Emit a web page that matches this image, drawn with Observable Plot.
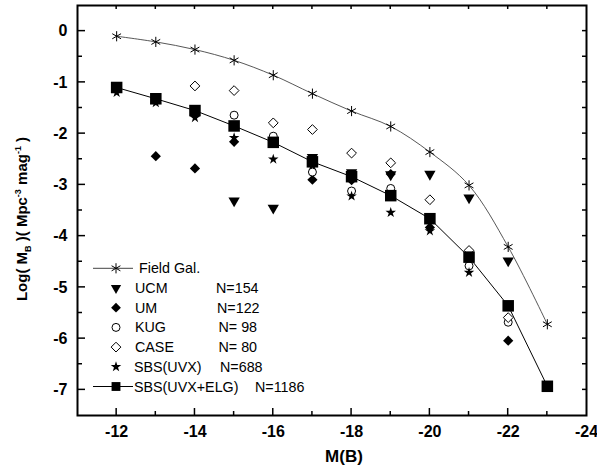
<!DOCTYPE html>
<html><head><meta charset="utf-8">
<script src="https://cdn.jsdelivr.net/npm/d3@7"></script>
<script src="https://cdn.jsdelivr.net/npm/@observablehq/plot@0.6"></script>
<style>body{margin:0;background:#fff} #chart{width:597px;height:471px}</style>
</head><body><div id="chart"></div>
<script>
// ---- data ----
const fieldMag = [-12,-13,-14,-15,-16,-17,-18,-19,-20,-21,-22,-23];
const fieldLog = [-0.10,-0.21,-0.36,-0.57,-0.86,-1.22,-1.56,-1.86,-2.36,-3.01,-4.21,-5.72];

const sbsAllMag = [-12,-13,-14,-15,-16,-17,-18,-19,-20,-21,-22,-23];
const sbsAllLog = [-1.10,-1.32,-1.55,-1.85,-2.17,-2.55,-2.84,-3.21,-3.66,-4.41,-5.36,-6.93];

const ucmMag = [-15,-16,-17,-18,-19,-20,-21,-22];
const ucmLog = [-3.31,-3.45,-2.46,-2.76,-2.80,-2.79,-3.25,-4.48];

const umMag = [-13,-14,-15,-17,-18,-19,-20,-22];
const umLog = [-2.44,-2.68,-2.16,-2.90,-2.91,-2.79,-3.83,-6.04];

const kugMag = [-15,-16,-17,-18,-19,-20,-21,-22];
const kugLog = [-1.64,-2.05,-2.75,-3.12,-3.07,-3.65,-4.58,-5.68];

const caseMag = [-14,-15,-16,-17,-18,-19,-20,-21,-22];
const caseLog = [-1.07,-1.16,-1.79,-1.92,-2.38,-2.57,-3.29,-4.28,-5.59];

const uvxMag = [-12,-13,-14,-15,-16,-17,-18,-19,-20,-21];
const uvxLog = [-1.20,-1.40,-1.69,-2.08,-2.50,-2.62,-3.22,-3.54,-3.90,-4.71];

const xMajorTicks = [-12,-14,-16,-18,-20,-22,-24];
const xMinorTicks = [-13,-15,-17,-19,-21,-23];
const xTopTicks = [-12,-13,-14,-15,-16,-17,-18,-19,-20,-21,-22,-23];
const yMajorTicks = [0,-1,-2,-3,-4,-5,-6,-7];
const yMinorTicks = [-0.5,-1.5,-2.5,-3.5,-4.5,-5.5,-6.5];
const yRightTicks = [0,-0.5,-1,-1.5,-2,-2.5,-3,-3.5,-4,-4.5,-5,-5.5,-6,-6.5,-7];

const legendNames = ["Field Gal.","UCM","UM","KUG","CASE","SBS(UVX)","SBS(UVX+ELG)"];
const legendCounts = ["","N=154","N=122","N= 98","N= 80","N=688","N=1186"];

const rows = (xs, ys) => xs.map((x, i) => ({x, y: ys[i]}));

// ---- layout ----
const W = 597, H = 471;
const mL = 77, mR = 11, mT = 5, mB = 56;
const font = "'Liberation Sans', Arial, sans-serif";
const fmt = d => String(d);

const chart = Plot.plot({
  width: W, height: H,
  marginLeft: mL, marginRight: mR, marginTop: mT, marginBottom: mB,
  style: {fontFamily: font, background: "white", color: "black"},
  x: {domain: [-11, -24], label: null},
  y: {domain: [-7.5, 0.5], label: null},
  marks: [
    Plot.axisX({ticks: xMajorTicks, anchor: "bottom", tickSize: 0, tickPadding: 10, tickFormat: fmt, fontSize: 16, fontWeight: "bold", label: null}),
    Plot.axisY({ticks: yMajorTicks, anchor: "left", tickSize: 0, tickPadding: 10, tickFormat: fmt, fontSize: 16, fontWeight: "bold", label: null}),
    Plot.line(rows(fieldMag, fieldLog), {x: "x", y: "y", curve: "catmull-rom", stroke: "#444", strokeWidth: 0.9}),
    Plot.line(rows(sbsAllMag, sbsAllLog), {x: "x", y: "y", stroke: "black", strokeWidth: 1}),
    Plot.dot(rows(fieldMag, fieldLog), {x: "x", y: "y", symbol: "asterisk", r: 4.8, stroke: "black", strokeWidth: 1, fill: "none"}),
    Plot.dot(rows(ucmMag, ucmLog), {x: "x", y: "y", symbol: "triangle", rotate: 180, r: 4.2, fill: "black", stroke: "none"}),
    Plot.dot(rows(umMag, umLog), {x: "x", y: "y", symbol: "diamond2", r: 4.6, fill: "black", stroke: "none"}),
    Plot.dot(rows(kugMag, kugLog), {x: "x", y: "y", symbol: "circle", r: 4, fill: "white", stroke: "black", strokeWidth: 1}),
    Plot.dot(rows(caseMag, caseLog), {x: "x", y: "y", symbol: "diamond2", r: 4.4, fill: "white", stroke: "black", strokeWidth: 1}),
    Plot.dot(rows(uvxMag, uvxLog), {x: "x", y: "y", symbol: "star", r: 3.3, fill: "black", stroke: "none"}),
    Plot.dot(rows(sbsAllMag, sbsAllLog), {x: "x", y: "y", symbol: "square", r: 6.5, fill: "black", stroke: "none"}),
    Plot.frame({stroke: "black", strokeWidth: 2})
  ]
});
document.getElementById("chart").appendChild(chart);

const svg = d3.select(chart);
const sx = chart.scale("x"), sy = chart.scale("y");
const frameL = mL, frameR = W - mR, frameT = mT, frameB = H - mB;

// ---- inward tick marks, placed through Plot's scales ----
const tg = svg.append("g").attr("stroke", "black").attr("stroke-width", 1.5);
const tickV = (ticks, y0, len) => ticks.forEach(t => {
  const x = sx.apply(t);
  tg.append("line").attr("x1", x).attr("x2", x).attr("y1", y0).attr("y2", y0 + len);
});
const tickH = (ticks, x0, len) => ticks.forEach(t => {
  const y = sy.apply(t);
  tg.append("line").attr("y1", y).attr("y2", y).attr("x1", x0).attr("x2", x0 + len);
});
tickV(xMajorTicks.filter(t => t > -24), frameB, -7);
tickV(xMinorTicks, frameB, -4);
tickV(xTopTicks, frameT, 4);
tickH(yMajorTicks, frameL, 8);
tickH(yMinorTicks, frameL, 5);
tickH(yRightTicks, frameR, -4);

// ---- axis titles ----
svg.append("text")
  .attr("x", 344).attr("y", 462)
  .attr("text-anchor", "middle")
  .attr("font-family", font).attr("font-weight", "bold").attr("font-size", 17)
  .text("M(B)");

const yl = svg.append("text")
  .attr("transform", "translate(27,219) rotate(-90)")
  .attr("text-anchor", "middle")
  .attr("font-family", font).attr("font-weight", "bold").attr("font-size", 15);
yl.append("tspan").text("Log( M");
yl.append("tspan").attr("dy", 4).attr("font-size", 9).text("B");
yl.append("tspan").attr("dy", -4).text(" )( Mpc");
yl.append("tspan").attr("dy", -6).attr("font-size", 9).text("-3");
yl.append("tspan").attr("dy", 6).text(" mag");
yl.append("tspan").attr("dy", -6).attr("font-size", 9).text("-1");
yl.append("tspan").attr("dy", 6).text(" )");

// ---- legend ----
const legSymbols = [
  {type: d3.symbolAsterisk, r: 4.8, fill: "none", stroke: "black", rot: 0, line: true, lineColor: "#444"},
  {type: d3.symbolTriangle, r: 3.8, fill: "black", stroke: "none", rot: 180},
  {type: d3.symbolDiamond2, r: 4.4, fill: "black", stroke: "none", rot: 0},
  {type: d3.symbolCircle, r: 4, fill: "white", stroke: "black", rot: 0},
  {type: d3.symbolDiamond2, r: 4.4, fill: "white", stroke: "black", rot: 0},
  {type: d3.symbolStar, r: 3.3, fill: "black", stroke: "none", rot: 0},
  {type: d3.symbolSquare, r: 5, fill: "black", stroke: "none", rot: 0, line: true, lineColor: "black"}
];
const legX = 116, legY0 = 268.3, legDy = 19.7;
const nameX = [139, 135, 135, 135, 135, 134, 134];
const countX = [0, 216, 217, 218.5, 218.5, 220, 255];
const lg = svg.append("g").attr("font-family", font).attr("font-size", 14.3).attr("text-anchor", "start");
legendNames.forEach((name, i) => {
  const y = legY0 + i * legDy;
  const s = legSymbols[i];
  if (s.line) {
    lg.append("line").attr("x1", 93).attr("x2", 133).attr("y1", y).attr("y2", y)
      .attr("stroke", s.lineColor).attr("stroke-width", 1);
  }
  lg.append("path")
    .attr("d", d3.symbol().type(s.type).size(s.r * s.r * Math.PI)())
    .attr("transform", `translate(${legX},${y}) rotate(${s.rot})`)
    .attr("fill", s.fill).attr("stroke", s.stroke).attr("stroke-width", 1);
  lg.append("text").attr("x", nameX[i]).attr("y", y).attr("dy", "0.35em").attr("text-anchor", "start").text(name);
  if (legendCounts[i]) {
    lg.append("text").attr("x", countX[i]).attr("y", y).attr("dy", "0.35em").attr("text-anchor", "start")
      .style("white-space", "pre").text(legendCounts[i]);
  }
});
</script>
</body></html>
